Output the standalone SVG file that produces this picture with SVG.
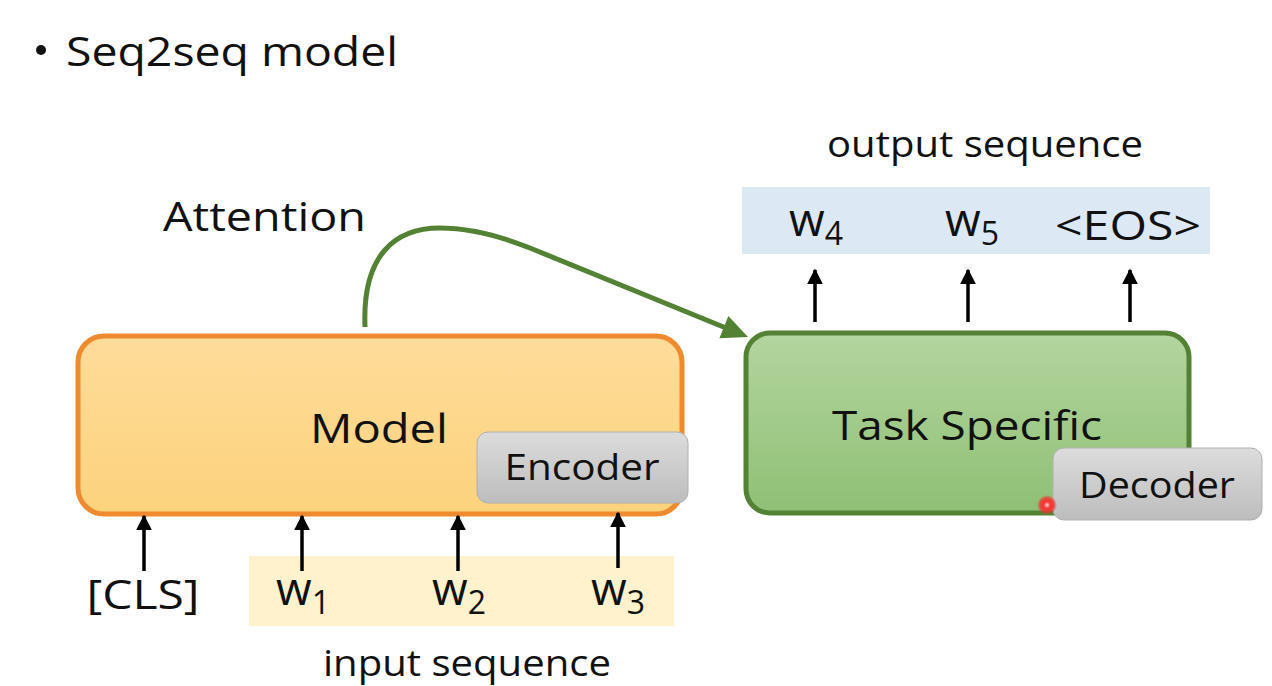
<svg xmlns="http://www.w3.org/2000/svg" width="1272" height="686" viewBox="0 0 1272 686">
<defs>
<linearGradient id="gOrange" x1="0" y1="0" x2="0" y2="1"><stop offset="0" stop-color="#FEDC9A"/><stop offset="1" stop-color="#FCD27C"/></linearGradient>
<linearGradient id="gGreen" x1="0" y1="0" x2="0" y2="1"><stop offset="0" stop-color="#B3D59F"/><stop offset="1" stop-color="#8FC075"/></linearGradient>
<linearGradient id="gGray" x1="0" y1="0" x2="0" y2="1"><stop offset="0" stop-color="#DCDCDC"/><stop offset="1" stop-color="#BDBDBD"/></linearGradient>
<radialGradient id="gDot"><stop offset="0" stop-color="#FFE0E0"/><stop offset="0.35" stop-color="#FF3030"/><stop offset="0.7" stop-color="#F03030" stop-opacity="0.8"/><stop offset="1" stop-color="#F03030" stop-opacity="0"/></radialGradient>
<marker id="ah" viewBox="0 0 10 10" refX="9" refY="5" markerWidth="4.6" markerHeight="4.6" orient="auto"><path d="M0,0 L10,5 L0,10 z" fill="#000"/></marker>
</defs>
<style>
text{font-family:"Open Sans","Noto Sans","Liberation Sans",sans-serif;fill:#111;}
.big{font-size:40px;}
.mid{font-size:36px;}
.w{font-size:46px;}
.sub{font-size:32px;}
.ar{stroke:#000;stroke-width:3.5;fill:none;marker-end:url(#ah);}
</style>
<rect width="1272" height="686" fill="#fff"/>
<g id="title">
<circle cx="41" cy="50" r="5" fill="#111"/>
<text x="66" y="66" style="font-size:40px" textLength="332" lengthAdjust="spacingAndGlyphs">Seq2seq model</text>
</g>
<g id="attention-label"><text x="163" y="231" style="font-size:40px" textLength="203" lengthAdjust="spacingAndGlyphs">Attention</text></g>
<g id="output-seq">
<text x="985" y="157" text-anchor="middle" class="mid" textLength="316" lengthAdjust="spacingAndGlyphs">output sequence</text>
<rect x="742" y="187" width="468" height="67" fill="#DCE9F5"/>
<text x="789" y="236" class="w">w<tspan class="sub" dy="9">4</tspan></text>
<text x="945" y="236" class="w">w<tspan class="sub" dy="9">5</tspan></text>
<text x="1128" y="240" text-anchor="middle" class="big" textLength="146" lengthAdjust="spacingAndGlyphs">&lt;EOS&gt;</text>
</g>
<g id="model">
<rect x="78" y="336" width="604" height="178" rx="26" fill="url(#gOrange)" stroke="#F08A30" stroke-width="5"/>
<text x="379" y="443" text-anchor="middle" class="big" textLength="138" lengthAdjust="spacingAndGlyphs">Model</text>
</g>
<g id="encoder">
<rect x="477" y="432" width="211" height="71" rx="11" fill="url(#gGray)" stroke="#B0B0B0" stroke-width="1"/>
<text x="582" y="480" text-anchor="middle" class="mid" textLength="155" lengthAdjust="spacingAndGlyphs">Encoder</text>
</g>
<g id="task-specific">
<rect x="746" y="333" width="443" height="180" rx="24" fill="url(#gGreen)" stroke="#548235" stroke-width="5"/>
<text x="967" y="440" text-anchor="middle" class="big" textLength="270" lengthAdjust="spacingAndGlyphs">Task Specific</text>
</g>
<g id="decoder">
<rect x="1053" y="448" width="209" height="72" rx="11" fill="url(#gGray)" stroke="#B0B0B0" stroke-width="1"/>
<text x="1157" y="498" text-anchor="middle" class="mid" textLength="156" lengthAdjust="spacingAndGlyphs">Decoder</text>
</g>
<g id="input-seq">
<rect x="249" y="556" width="425" height="70" fill="#FFF2CC"/>
<text x="143" y="609" text-anchor="middle" class="big" textLength="113" lengthAdjust="spacingAndGlyphs">[CLS]</text>
<text x="276" y="605" class="w">w<tspan class="sub" dy="9">1</tspan></text>
<text x="432" y="605" class="w">w<tspan class="sub" dy="9">2</tspan></text>
<text x="591" y="605" class="w">w<tspan class="sub" dy="9">3</tspan></text>
<text x="467" y="676" text-anchor="middle" class="mid" textLength="288" lengthAdjust="spacingAndGlyphs">input sequence</text>
</g>
<g id="connectors">
<path d="M365,327 C362,255 395,228 440,228 C470,228 500,236 530,248 L726,328" fill="none" stroke="#548235" stroke-width="5"/>
<polygon points="748,337 719.4,338.3 728.4,316.1" fill="#548235"/>
<line x1="815" y1="322" x2="815" y2="270" class="ar"/>
<line x1="968" y1="322" x2="968" y2="270" class="ar"/>
<line x1="1130" y1="322" x2="1130" y2="270" class="ar"/>
<line x1="144" y1="571" x2="144" y2="516" class="ar"/>
<line x1="302" y1="571" x2="302" y2="516" class="ar"/>
<line x1="458" y1="571" x2="458" y2="516" class="ar"/>
<line x1="618" y1="568" x2="618" y2="513" class="ar"/>
</g>
<g id="pointer"><circle cx="1047" cy="505" r="10" fill="url(#gDot)"/></g>
</svg>
